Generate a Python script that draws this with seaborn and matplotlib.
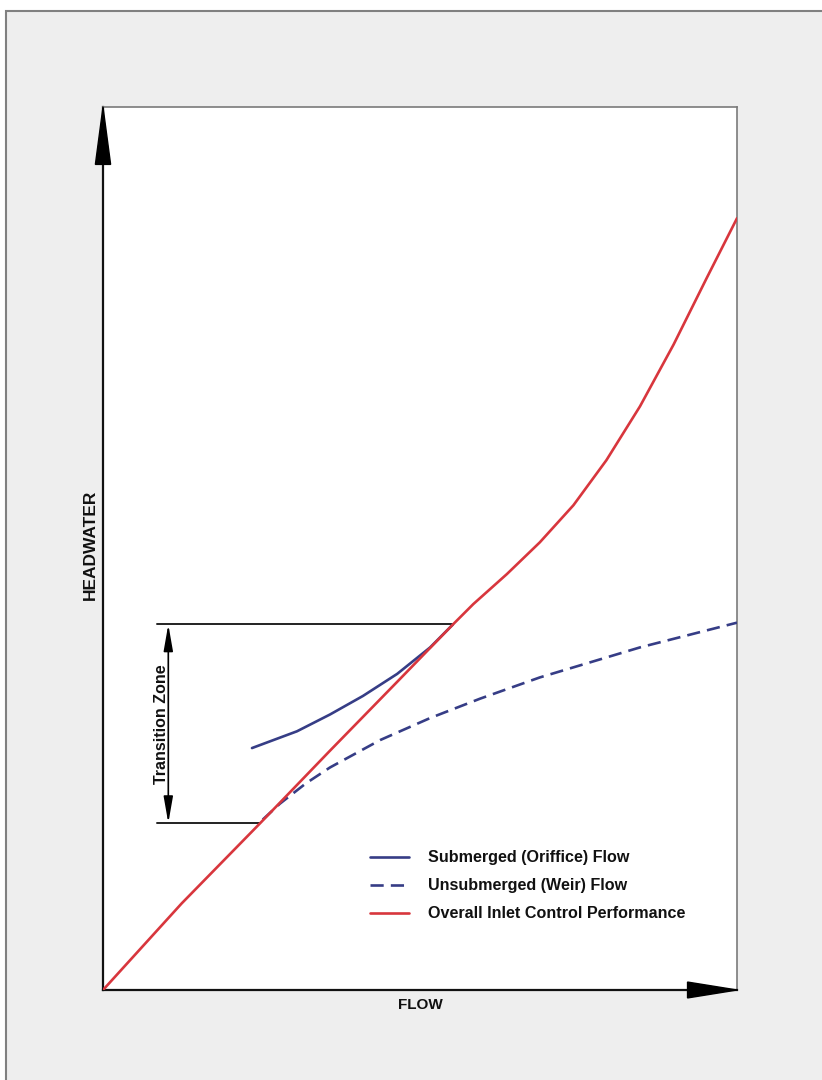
import matplotlib
matplotlib.use("Agg")
import matplotlib.pyplot as plt
from matplotlib.patches import Polygon, Rectangle
from matplotlib.lines import Line2D
import seaborn as sns

# ---- data (arbitrary units 0-100) ----
overall_x = [0, 12.4, 24.8, 35.8, 46.4, 55.2, 58.4, 63.7, 68.9, 74.2, 79.4, 84.7, 90.0, 95.2, 100]
overall_y = [0, 9.8, 18.9, 27.1, 34.9, 41.4, 43.7, 47.1, 50.7, 54.9, 60.0, 66.1, 73.1, 80.6, 87.4]

orifice_x = [23.5, 30.6, 35.8, 41.0, 46.4, 51.6, 55.2]
orifice_y = [27.4, 29.3, 31.2, 33.3, 35.8, 38.8, 41.4]

weir_x = [25.2, 27.9, 32.0, 35.8, 43.7, 51.6, 59.5, 68.9, 84.7, 100]
weir_y = [19.3, 21.1, 23.4, 25.2, 28.3, 30.8, 33.0, 35.4, 38.8, 41.6]

transition_low = 18.9
transition_high = 41.4
transition_low_x = 24.8
transition_high_x = 55.2
zone_left = 8.5
zone_arrow_x = 10.3

labels = ["Submerged (Oriffice) Flow", "Unsubmerged (Weir) Flow", "Overall Inlet Control Performance"]

RED = "#d8363d"
BLUE = "#363d86"
BG = "#eeeeee"

sns.set_style("white")
plt.rcParams["font.family"] = ["Liberation Sans", "DejaVu Sans"]

fig = plt.figure(figsize=(8.22, 10.8), dpi=100, facecolor=BG)
# white margin strips + frame lines
fig.patches.append(Rectangle((0, 0), 1, 1, transform=fig.transFigure, facecolor="white", edgecolor="none", zorder=-3))
fig.patches.append(Rectangle((6 / 822, -0.1), 1.2, (1080 - 11) / 1080 + 0.1, transform=fig.transFigure,
                             facecolor=BG, edgecolor="#808080", linewidth=1.5, zorder=-2))

ax = fig.add_axes([103 / 822, 90 / 1080, 634 / 822, 883 / 1080])
ax.set_facecolor("white")

sns.lineplot(x=orifice_x, y=orifice_y, ax=ax, color=BLUE, lw=1.9, sort=False, zorder=3)
sns.lineplot(x=weir_x, y=weir_y, ax=ax, color=BLUE, lw=1.9, sort=False, linestyle=(0, (5.0, 2.7)), zorder=3)
sns.lineplot(x=overall_x, y=overall_y, ax=ax, color=RED, lw=1.9, sort=False, zorder=4)
for ln in ax.lines:
    ln.set_solid_joinstyle("round")

ax.set_xlim(0, 100)
ax.set_ylim(0, 100)
ax.set_xticks([])
ax.set_yticks([])
ax.set_xlabel("")
ax.set_ylabel("")

for side in ["top", "right"]:
    ax.spines[side].set_color("#7a7a7a")
    ax.spines[side].set_linewidth(1.2)
for side in ["left", "bottom"]:
    ax.spines[side].set_color("#111111")
    ax.spines[side].set_linewidth(1.6)

# axis arrow heads
ax.add_patch(Polygon([[0, 1.0], [-0.012, 0.935], [0.012, 0.935]], closed=True, transform=ax.transAxes,
                     facecolor="black", edgecolor="black", clip_on=False, zorder=6))
ax.add_patch(Polygon([[1.0, 0], [0.922, -0.009], [0.922, 0.009]], closed=True, transform=ax.transAxes,
                     facecolor="black", edgecolor="black", clip_on=False, zorder=6))

# transition zone markers
ax.plot([zone_left, transition_high_x], [transition_high, transition_high], color="#222222", lw=1.4, zorder=2)
ax.plot([zone_left, transition_low_x], [transition_low, transition_low], color="#222222", lw=1.4, zorder=2)
ax.annotate("", xy=(zone_arrow_x, transition_high), xytext=(zone_arrow_x, transition_low),
            arrowprops=dict(arrowstyle="<|-|>,head_length=1.6,head_width=0.28", color="black", lw=1.2,
                            shrinkA=0, shrinkB=0, mutation_scale=10))
ax.text(zone_arrow_x - 1.0, (transition_low + transition_high) / 2, "Transition Zone", rotation=90,
        ha="center", va="center", fontsize=11.5, fontweight="bold", color="#111111")

ax.text(-0.020, 0.504, "HEADWATER", rotation=90, transform=ax.transAxes, ha="center", va="center",
        fontsize=12.5, fontweight="bold", color="#111111")
ax.text(0.5, -0.017, "FLOW", transform=ax.transAxes, ha="center", va="center",
        fontsize=11, fontweight="bold", color="#111111")

handles = [Line2D([], [], color=BLUE, lw=1.9),
           Line2D([], [], color=BLUE, lw=1.9, linestyle=(0, (5.0, 2.7))),
           Line2D([], [], color=RED, lw=1.9)]
leg = ax.legend(handles, labels, loc="upper left", bbox_to_anchor=(0.421, 0.158), frameon=False,
                borderpad=0, borderaxespad=0, handlelength=2.4, handletextpad=1.2, labelspacing=0.8,
                prop=dict(family="Liberation Sans", weight="bold", size=11.6))
for t in leg.get_texts():
    t.set_color("#111111")

fig.savefig("out.png", dpi=100, facecolor=fig.get_facecolor())
